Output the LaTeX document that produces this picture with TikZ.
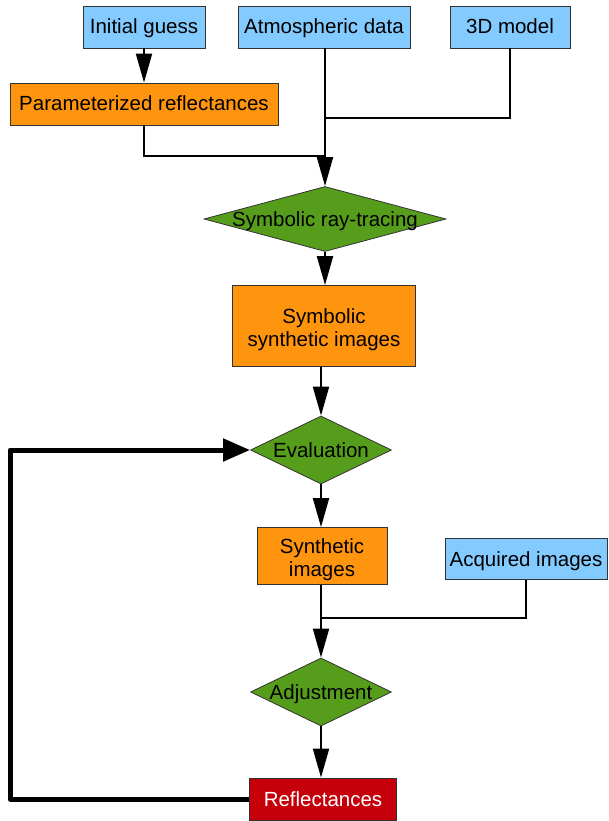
\documentclass[tikz,border=0pt]{standalone}
\usepackage{fontspec}
\setmainfont{Liberation Sans}
\usetikzlibrary{shapes.geometric,arrows.meta}
\definecolor{cblue}{HTML}{83CAFF}
\definecolor{corange}{HTML}{FF950E}
\definecolor{cgreen}{HTML}{579D1C}
\definecolor{cred}{HTML}{C5000B}
\definecolor{cborder}{HTML}{333333}
\begin{document}
\begin{tikzpicture}[x=1pt,y=-1pt,
  every node/.style={font=\fontsize{20.5}{23}\selectfont},
  every label/.style={text height=16pt,text depth=2pt,inner sep=0pt},
  twoline/.style={align=center,text height={},text depth={},yshift=-4pt},
  box/.style={draw=cborder,line width=0.8pt,rectangle,inner sep=0pt,align=center,text height=16pt,text depth=2pt},
  inbox/.style={box,fill=cblue},
  procbox/.style={box,fill=corange},
  outbox/.style={box,fill=cred,text=white},
  dia/.style={draw=cborder,line width=0.8pt,diamond,fill=cgreen,inner sep=0pt},
  conn/.style={line width=2pt},
  arr/.style={conn,-{Triangle[length=29pt,width=16pt]}},
  loopline/.style={line width=5pt,line join=round,-{Triangle[length=27pt,width=22pt]}}
]
\useasboundingbox (0,0) rectangle (609,821);
% input boxes
\node[inbox,minimum width=122pt,minimum height=42pt] (ig) at (144,27) {Initial guess};
\node[inbox,minimum width=172pt,minimum height=42pt] (atm) at (324,27) {Atmospheric data};
\node[inbox,minimum width=120pt,minimum height=42pt] (mod) at (510,27) {3D model};
\node[procbox,minimum width=268pt,minimum height=42pt] (par) at (144,104) {Parameterized reflectances};
% diamonds
\node[dia,minimum width=242pt,minimum height=65pt,label=center:{Symbolic ray-tracing}] (srt) at (325,219) {};
\node[procbox,minimum width=183pt,minimum height=81pt,label={[twoline]center:{Symbolic\\synthetic images}}] (ssi) at (324,326) {};
\node[dia,minimum width=141pt,minimum height=68pt,label=center:{Evaluation}] (ev) at (321,450) {};
\node[procbox,minimum width=130pt,minimum height=57pt,label={[twoline]center:{Synthetic\\images}}] (si) at (322,556) {};
\node[inbox,minimum width=162pt,minimum height=41pt] (acq) at (526,559) {Acquired images};
\node[dia,minimum width=141pt,minimum height=68pt,label=center:{Adjustment}] (adj) at (321,692) {};
\node[outbox,minimum width=147pt,minimum height=42pt] (ref) at (323,799) {Reflectances};
% junction coordinates
\coordinate (j1) at (325,118);
\coordinate (j2) at (325,156);
\coordinate (j3) at (321,618);
\coordinate (lp) at (10,450);
% connectors
\draw[arr] (ig) -- (par);
\draw[arr] (atm.south -| srt.north) -- (srt.north);
\draw[conn] (mod.south) |- (j1);
\draw[conn] (par.south) |- (j2);
\draw[arr] (srt.south) -- (srt.south |- ssi.north);
\draw[arr] (ssi.south -| ev.north) -- (ev.north);
\draw[arr] (ev.south) -- (ev.south |- si.north);
\draw[arr] (si.south -| adj.north) -- (adj.north);
\draw[conn] (acq.south) |- (j3);
\draw[arr] (adj.south) -- (adj.south |- ref.north);
\draw[loopline] (ref.west) -| (lp) -- (ev.west);
\end{tikzpicture}
\end{document}
